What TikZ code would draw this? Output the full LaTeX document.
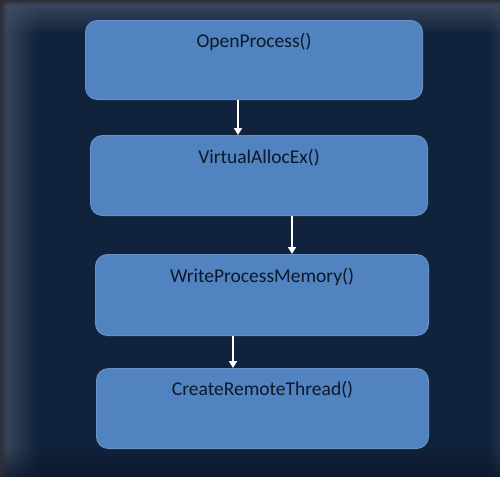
\documentclass[tikz,border=0pt]{standalone}
\usepackage{fontspec}
\setmainfont{Carlito}
\usetikzlibrary{fadings,arrows.meta}
\definecolor{bg}{HTML}{11223C}
\definecolor{edge}{HTML}{3F4C62}
\definecolor{rim}{HTML}{2C2F35}
\definecolor{deep}{HTML}{0B1626}
\definecolor{boxfill}{HTML}{5083BF}
\definecolor{boxline}{HTML}{6890C5}
\definecolor{txt}{HTML}{0D1828}
\tikzfading[name=faderight, left color=transparent!0, right color=transparent!100]
\tikzfading[name=fadedown, top color=transparent!0, bottom color=transparent!100]
\tikzfading[name=fadeup, bottom color=transparent!0, top color=transparent!100]
\tikzfading[name=fadeleft, right color=transparent!0, left color=transparent!100]
\begin{document}
\begin{tikzpicture}[x=1pt,y=-1pt,
  stepbox/.style={draw=boxline, line width=1pt, fill=boxfill, rounded corners=12pt,
    inner sep=0pt, anchor=north west},
  lbl/.style={text=txt, font=\fontsize{19.5}{22}\selectfont, inner sep=0pt, anchor=base},
  arr/.style={draw=white, line width=2.6pt, -{Triangle[width=8pt,length=7pt]}}]
\useasboundingbox (0,0) rectangle (500,477);
\fill[bg] (0,0) rectangle (500,477);
\fill[edge, path fading=faderight] (0,0) rectangle (38,477);
\fill[edge, path fading=fadedown] (0,0) rectangle (500,34);
\fill[edge, opacity=0.35, path fading=fadeleft] (488,0) rectangle (500,477);
\fill[deep, opacity=0.7, path fading=fadeup] (0,447) rectangle (500,477);
\fill[rim, path fading=faderight] (0,0) rectangle (7,477);
\fill[rim, path fading=fadedown] (0,0) rectangle (500,5);
% boxes
\path (85,20) node[stepbox, minimum width=337pt, minimum height=79pt,
  label={[lbl, yshift=-27pt]north:OpenProcess()}] (b1) {};
\path (90,135) node[stepbox, minimum width=337pt, minimum height=80pt,
  label={[lbl, yshift=-28pt]north:VirtualAllocEx()}] (b2) {};
\path (95,254) node[stepbox, minimum width=333pt, minimum height=81pt,
  label={[lbl, yshift=-28pt]north:WriteProcessMemory()}] (b3) {};
\path (96,368) node[stepbox, minimum width=332pt, minimum height=80pt,
  label={[lbl, yshift=-27pt]north:CreateRemoteThread()}] (b4) {};
% arrows
\coordinate (a1) at (238,0);
\coordinate (a2) at (292,0);
\coordinate (a3) at (233,0);
\draw[arr] (b1.south -| a1) -- (b2.north -| a1);
\draw[arr] (b2.south -| a2) -- (b3.north -| a2);
\draw[arr] (b3.south -| a3) -- (b4.north -| a3);
\end{tikzpicture}
\end{document}
